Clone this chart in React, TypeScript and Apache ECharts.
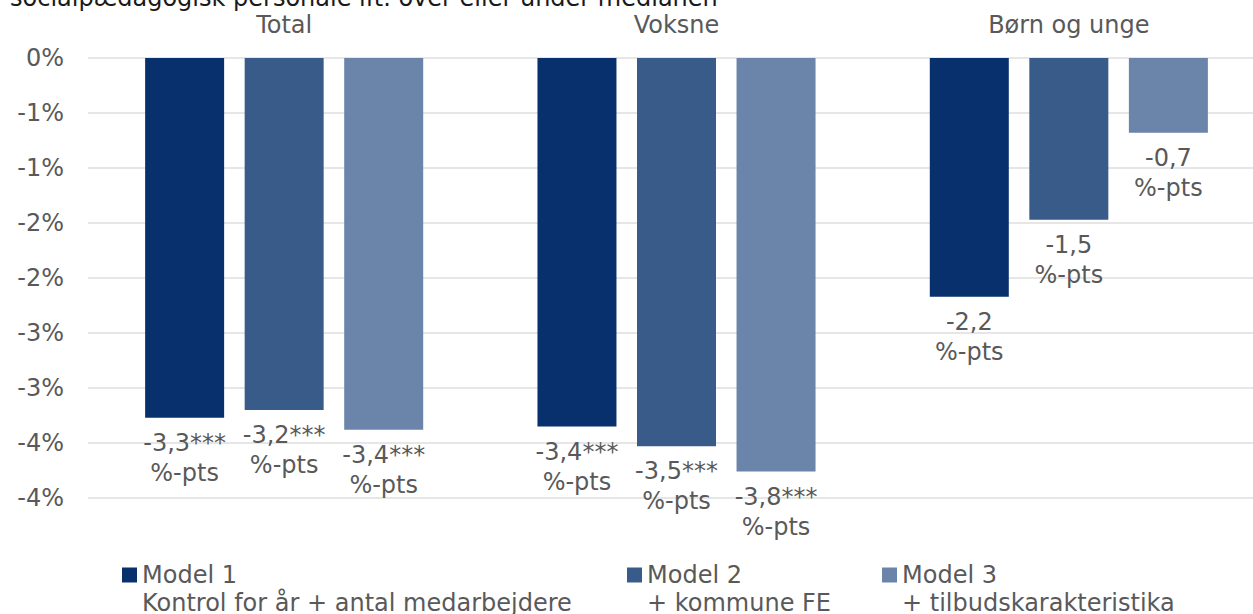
import React, { useEffect, useRef } from "react";
import * as echarts from "echarts";

const categories = ["Total", "Voksne", "Børn og unge"];
const seriesNames = ["Model 1", "Model 2", "Model 3"];
const seriesSubtitles = ["Kontrol for år + antal medarbejdere", "+ kommune FE", "+ tilbudskarakteristika"];
const model1 = [-3.27, -3.35, -2.17];
const model2 = [-3.2, -3.53, -1.47];
const model3 = [-3.38, -3.76, -0.68];
const model1Labels = ["-3,3***", "-3,4***", "-2,2"];
const model2Labels = ["-3,2***", "-3,5***", "-1,5"];
const model3Labels = ["-3,4***", "-3,8***", "-0,7"];
const yTickLabels = ["0%", "-1%", "-1%", "-2%", "-2%", "-3%", "-3%", "-4%", "-4%"];
const titleText = "socialpædagogisk personale ift. over eller under medianen";

const colors = ["#07306c", "#385b8a", "#6a84aa"];
const FONT = "DejaVu Sans";
const GREY = "#595959";
const CHART_W = 1290;

export default function App() {
  const ref = useRef<HTMLDivElement>(null);
  useEffect(() => {
    if (!ref.current) return;
    const chart = echarts.init(ref.current, null, { renderer: "svg" });
    const values = [model1, model2, model3];
    const labels = [model1Labels, model2Labels, model3Labels];
    const legendLefts = [122, 627, 882];
    chart.setOption({
      animation: false,
      textStyle: { fontFamily: FONT },
      title: {
        text: titleText,
        left: 10,
        top: -14,
        padding: 0,
        textStyle: { fontFamily: FONT, fontSize: 24, fontWeight: "normal", color: "#1a1a1a" },
      },
      grid: { left: 88, right: CHART_W - 1265, top: 58, bottom: 116, containLabel: false },
      xAxis: {
        type: "category",
        position: "top",
        data: categories,
        axisLine: { show: false },
        axisTick: { show: false },
        axisLabel: { fontFamily: FONT, fontSize: 24, color: GREY, margin: 21 },
      },
      yAxis: {
        type: "value",
        min: -4,
        max: 0,
        interval: 0.5,
        axisLine: { show: false },
        axisTick: { show: false },
        splitLine: { show: true, lineStyle: { color: "#e6e6e6", width: 2 } },
        axisLabel: {
          fontFamily: FONT,
          fontSize: 24,
          color: GREY,
          margin: 24,
          formatter: (v: number) => yTickLabels[Math.round(-v / 0.5)] ?? "",
        },
      },
      legend: seriesNames.map((n, i) => ({
        data: [n],
        left: legendLefts[i],
        top: 533,
        padding: 0,
        itemWidth: 15,
        itemHeight: 15,
        itemGap: 0,
        icon: "rect",
        selectedMode: false,
        formatter: () => "\n" + n + "\n" + seriesSubtitles[i],
        textStyle: { fontFamily: FONT, fontSize: 24, color: GREY, lineHeight: 28, padding: [0, 0, 0, 0] },
      })),
      series: seriesNames.map((n, i) => ({
        type: "bar",
        name: n,
        data: values[i],
        barWidth: 79,
        barGap: "26%",
        itemStyle: { color: colors[i] },
        label: {
          show: true,
          position: "bottom",
          distance: 10,
          fontFamily: FONT,
          fontSize: 24,
          lineHeight: 30,
          color: GREY,
          align: "center",
          formatter: (p: any) => labels[i][p.dataIndex] + "\n%-pts",
        },
      })),
    });
    return () => chart.dispose();
  }, []);
  return (
    <div style={{ position: "absolute", left: 0, top: 0, width: 1253, height: 614, background: "#fff", overflow: "hidden" }}>
      <div ref={ref} style={{ width: CHART_W, height: 614 }} />
    </div>
  );
}
